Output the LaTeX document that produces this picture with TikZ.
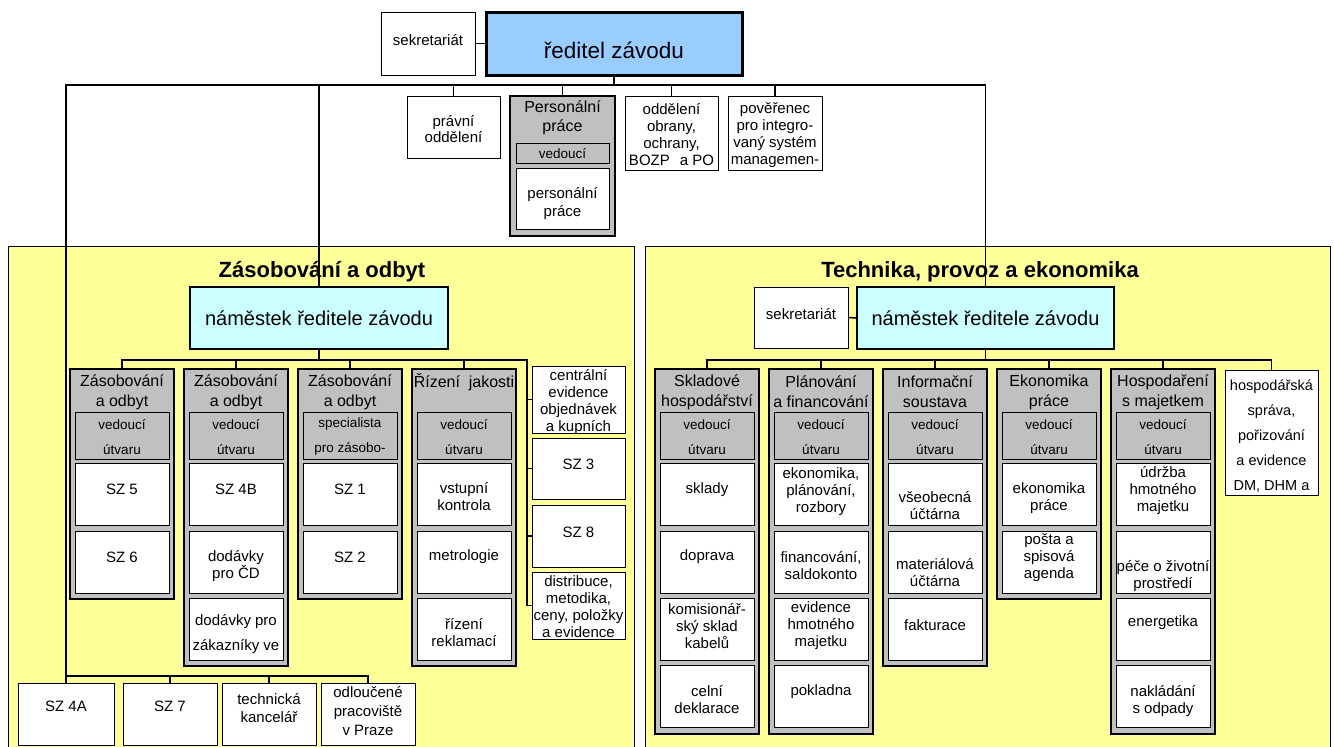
\documentclass[tikz,border=0pt]{standalone}
\usepackage{fontspec}
\setmainfont{Liberation Sans}
\definecolor{panelY}{HTML}{FFFF99}
\definecolor{greyC}{HTML}{C0C0C0}
\definecolor{blueD}{HTML}{99CCFF}
\definecolor{cyanN}{HTML}{CCFFFF}
\tikzset{
  panel/.style={draw, fill=panelY, line width=1pt},
  thinbox/.style={draw, fill=white, line width=1pt, inner sep=0pt, outer sep=0pt},
  thickbox/.style={draw, line width=2.6pt, inner sep=0pt, outer sep=0pt},
  colbox/.style={draw, fill=greyC, line width=2.6pt, inner sep=0pt, outer sep=0pt, minimum width=104pt},
  vedbox/.style={draw, fill=greyC, line width=1pt, inner sep=0pt, outer sep=0pt, minimum width=94pt, minimum height=47pt},
  whbox/.style={thinbox, minimum width=94pt, minimum height=62pt},
  txt/.style={inner sep=0pt, align=center, font=\fontsize{15}{17}\selectfont},
  ttl/.style={inner sep=0pt, align=center, font=\fontsize{16}{20}\selectfont},
  vtxt/.style={inner sep=0pt, align=center, font=\fontsize{13.5}{25}\selectfont},
  ttlB/.style={inner sep=0pt, font=\fontsize{22}{25}\selectfont\bfseries},
  conn/.style={line width=1.5pt},
}
% column: name, cx, bottom, title y, title, leader text
\newcommand\mkcol[6]{%
  \node[colbox, minimum height={#3-369}, anchor=north] (#1) at (#2,369) {};
  \node[ttl] (#1t) at (#2,#4) {#5};
  \node[vedbox, anchor=north] (#1v) at (#2,412) {};
  \node[vtxt] (#1vt) at (#2,437) {#6};
}
% white box: [opts] name, cx, top, text, dy
\newcommand\wb[6][]{%
  \node[whbox, anchor=north] (#2) at (#3,#4) {};
  \node[txt,#1] (#2l) at (#3,{#4+31+(#6)}) {#5};
}
\begin{document}
\begin{tikzpicture}[x=1pt,y=-1pt]
\useasboundingbox (0,0) rectangle (1334,747);
\clip (0,0) rectangle (1334,747);
\fill[white] (0,0) rectangle (1334,747);
\draw[panel] (8,246) rectangle (634,775);
\draw[panel] (645,246) rectangle (1330,775);
\node[ttlB] (tL) at (322,272) {Zásobování a odbyt};
\node[ttlB] (tR) at (980,272) {Technika, provoz a ekonomika};

% ---------- top level ----------
\node[thinbox, minimum width=94pt, minimum height=63pt] (sek1) at (428,43.5) {};
\node[txt] (sek1l) at (428,40) {sekretariát};
\node[thickbox, fill=blueD, line width=3pt, minimum width=256pt, minimum height=63pt] (dir) at (614,43.5) {};
\node[inner sep=0pt, font=\fontsize{22.5}{26}\selectfont] (dirl) at (614,50) {ředitel závodu};

\node[thinbox, minimum width=93pt, minimum height=62pt, anchor=north] (pravni) at (453.5,96) {};
\node[txt, font=\fontsize{15}{16}\selectfont] (pravnil) at (453.5,129) {právní\\oddělení};

\node[thickbox, fill=greyC, minimum width=105pt, minimum height=140pt, anchor=north] (pers) at (562.5,96) {};
\node[ttl, font=\fontsize{16}{19}\selectfont] (perst) at (562.5,117.5) {Personální\\práce};
\node[vedbox, minimum width=93pt, minimum height=20pt, anchor=north] (persv) at (562.5,143) {};
\node[vtxt] (persvt) at (562.5,153.5) {vedoucí};
\node[thinbox, minimum width=93pt, minimum height=61pt, anchor=north] (persw) at (562.5,168) {};
\node[txt, font=\fontsize{15}{18}\selectfont] (perswl) at (562.5,204) {personální\\práce};

\node[thinbox, minimum width=93pt, minimum height=74pt, anchor=north] (obrany) at (671.5,96) {};
\node[txt] (obranyl) at (671.5,135) {oddělení\\obrany,\\ochrany,\\BOZP\hspace{10pt}a PO};
\node[thinbox, minimum width=94pt, minimum height=74pt, anchor=north] (pover) at (775,96) {};
\node[txt] (poverl) at (775,135) {pověřenec\\pro integro-\\vaný systém\\managemen-};

% ---------- left panel ----------
\node[thickbox, fill=cyanN, minimum width=258pt, minimum height=62pt, anchor=north] (nL) at (319,287) {};
\node[inner sep=0pt, font=\fontsize{20}{24}\selectfont] (nLl) at (319,318) {náměstek ředitele závodu};

\mkcol{c1}{122}{599}{392}{Zásobování\\a odbyt}{vedoucí\\útvaru}
\wb{sz5}{122}{463}{SZ 5}{-5}
\wb{sz6}{122}{531}{SZ 6}{-5}

\mkcol{c2}{236}{666}{392}{Zásobování\\a odbyt}{vedoucí\\útvaru}
\wb{sz4b}{236}{463}{SZ 4B}{-5}
\wb{dcd}{236}{531}{dodávky\\pro ČD}{4}
\wb[font=\fontsize{15}{25}\selectfont]{dzak}{236}{598}{dodávky pro\\zákazníky ve}{5}

\mkcol{c3}{350}{599}{392}{Zásobování\\a odbyt}{specialista\\pro zásobo-}
\wb{sz1}{350}{463}{SZ 1}{-5}
\wb{sz2}{350}{531}{SZ 2}{-5}

\mkcol{c4}{464}{666}{382}{Řízení\ \ jakosti}{vedoucí\\útvaru}
\wb{vst}{464}{463}{vstupní\\kontrola}{3}
\wb{met}{464}{531}{metrologie}{-5}
\wb{rekl}{464}{598}{řízení\\reklamací}{4}

\node[thinbox, minimum width=93pt, minimum height=67pt, anchor=north] (cen) at (578.5,366) {};
\node[txt] (cenl) at (578.5,402) {centrální\\evidence\\objednávek\\a kupních};
\node[thinbox, minimum width=93pt, minimum height=61pt, anchor=north] (sz3) at (578.5,438) {};
\node[txt] (sz3l) at (578.5,464) {SZ 3};
\node[thinbox, minimum width=93pt, minimum height=62pt, anchor=north] (sz8) at (578.5,505) {};
\node[txt] (sz8l) at (578.5,532) {SZ 8};
\node[thinbox, minimum width=93pt, minimum height=67pt, anchor=north] (dist) at (578.5,572) {};
\node[txt] (distl) at (578.5,607) {distribuce,\\metodika,\\ceny, položky\\a evidence};

\node[thinbox, minimum width=96pt, minimum height=62pt, anchor=north] (sz4a) at (66,683) {};
\node[txt] (sz4al) at (66,706) {SZ 4A};
\node[thinbox, minimum width=94pt, minimum height=62pt, anchor=north] (sz7) at (170,683) {};
\node[txt] (sz7l) at (170,706) {SZ 7};
\node[thinbox, minimum width=94pt, minimum height=62pt, anchor=north] (tech) at (269,683) {};
\node[txt, font=\fontsize{15}{18}\selectfont] (techl) at (269,708) {technická\\kancelář};
\node[thinbox, minimum width=94pt, minimum height=62pt, anchor=north] (odl) at (368,683) {};
\node[txt, font=\fontsize{15}{19}\selectfont] (odll) at (368,711) {odloučené\\pracoviště\\v Praze};

% ---------- right panel ----------
\node[thinbox, minimum width=94pt, minimum height=61pt, anchor=north] (sekR) at (801,287) {};
\node[txt] (sekRl) at (801,314) {sekretariát};
\node[thickbox, fill=cyanN, minimum width=257pt, minimum height=62pt, anchor=north] (nR) at (985.5,287) {};
\node[inner sep=0pt, font=\fontsize{20}{24}\selectfont] (nRl) at (985.5,318) {náměstek ředitele závodu};

\mkcol{r1}{707}{734}{392}{Skladové\\hospodářství}{vedoucí\\útvaru}
\wb{skl}{707}{463}{sklady}{-4}
\wb{dop}{707}{531}{doprava}{-5}
\wb{kom}{707}{598}{komisionář-\\ský sklad\\kabelů}{-3}
\wb{cel}{707}{665}{celní\\deklarace}{4}

\mkcol{r2}{821}{734}{392}{Plánování\\a financování}{vedoucí\\útvaru}
\wb{ekp}{821}{463}{ekonomika,\\plánování,\\rozbory}{-2}
\wb{fin}{821}{531}{financování,\\saldokonto}{4}
\wb{evi}{821}{598}{evidence\\hmotného\\majetku}{-3}
\wb{pok}{821}{665}{pokladna}{-4}

\mkcol{r3}{935}{666}{392}{Informační\\soustava}{vedoucí\\útvaru}
\wb{vse}{935}{463}{všeobecná\\účtárna}{12}
\wb{mat}{935}{531}{materiálová\\účtárna}{11}
\wb{fak}{935}{598}{fakturace}{-4}

\mkcol{r4}{1049}{599}{392}{Ekonomika\\práce}{vedoucí\\útvaru}
\wb{ekpr}{1049}{463}{ekonomika\\práce}{4}
\wb{pos}{1049}{531}{pošta a\\spisová\\agenda}{-4}

\mkcol{r5}{1163}{734}{392}{Hospodaření\\s majetkem}{vedoucí\\útvaru}
\wb{udr}{1163}{463}{údržba\\hmotného\\majetku}{-3}
\wb{pec}{1163}{531}{péče o životní\\prostředí}{14}
\wb{ene}{1163}{598}{energetika}{-6}
\wb{nak}{1163}{665}{nakládání\\s odpady}{5}

\node[thinbox, minimum width=93pt, minimum height=125pt, anchor=north] (hosp) at (1271.5,370) {};
\node[txt, font=\fontsize{14.5}{25}\selectfont] (hospl) at (1271.5,436) {hospodářská\\správa,\\pořizování\\a evidence\\DM, DHM a};

% ---------- connectors ----------
\coordinate (tb) at (614,85);
\coordinate (bb) at (66,676);
\coordinate (busL) at (319,360);
\coordinate (rv) at (527,360);
\coordinate (busR) at (985.5,360);

\draw[conn] (sek1.east) -- (dir.west);
\draw[conn] (dir.south) -- (tb);
\draw[conn] (bb) |- (tb);
\draw[conn] (pravni.north) |- (tb);
\draw[conn] (pers.north) |- (tb);
\draw[conn] (obrany.north) |- (tb);
\draw[conn] (pover.north) |- (tb);
\draw[conn] (nL.north) |- (tb);
\draw[conn] (nR.north) |- (tb);

\draw[conn] (sz4a.north) -- (bb);
\draw[conn] (sz7.north) |- (bb);
\draw[conn] (tech.north) |- (bb);
\draw[conn] (odl.north) |- (bb);

\draw[conn] (nL.south) -- (busL);
\draw[conn] (c1.north) |- (busL);
\draw[conn] (c2.north) |- (busL);
\draw[conn] (c3.north) |- (busL);
\draw[conn] (c4.north) |- (busL);
\draw[conn] (cen.west) -| (rv);
\draw[conn] (sz3.west) -| (rv);
\draw[conn] (sz8.west) -| (rv);
\draw[conn] (dist.west) -| (rv) -- (busL);

\draw[conn] (sekR.east) -- (nR.west);
\draw[conn] (nR.south) -- (busR);
\draw[conn] (r1.north) |- (busR);
\draw[conn] (r2.north) |- (busR);
\draw[conn] (r3.north) |- (busR);
\draw[conn] (r4.north) |- (busR);
\draw[conn] (r5.north) |- (busR);
\draw[conn] (hosp.north) |- (busR);
\end{tikzpicture}
\end{document}
